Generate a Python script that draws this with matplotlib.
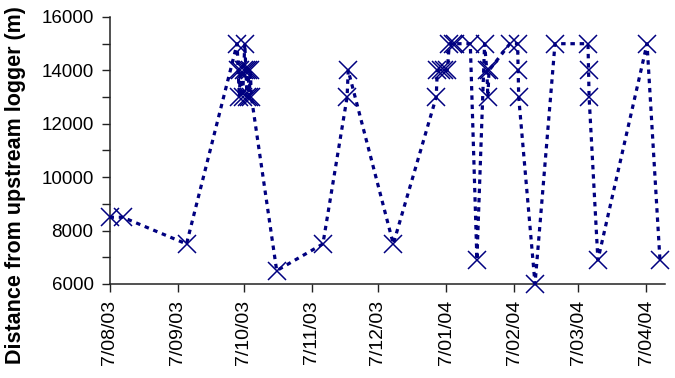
import matplotlib
matplotlib.use("Agg")
import matplotlib.pyplot as plt
import matplotlib.dates as mdates
from matplotlib.ticker import MultipleLocator, FixedLocator
import pandas as pd

# ---- data ----
times = [
    "2003-08-07 00:00", "2003-08-13 00:00", "2003-09-11 00:00",
    "2003-10-04 00:00", "2003-10-04 12:00", "2003-10-05 00:00", "2003-10-05 12:00",
    "2003-10-06 12:00", "2003-10-07 00:00", "2003-10-07 12:00", "2003-10-08 00:00",
    "2003-10-08 12:00", "2003-10-09 00:00", "2003-10-09 12:00", "2003-10-10 00:00",
    "2003-10-10 12:00",
    "2003-10-22 00:00",
    "2003-11-12 00:00", "2003-11-23 00:00", "2003-11-23 12:00",
    "2003-12-14 00:00",
    "2004-01-02 12:00", "2004-01-03 00:00", "2004-01-04 12:00", "2004-01-06 00:00",
    "2004-01-07 12:00", "2004-01-08 12:00", "2004-01-10 00:00", "2004-01-11 00:00",
    "2004-01-18 00:00",
    "2004-01-21 00:00",
    "2004-01-24 12:00", "2004-01-25 12:00", "2004-01-26 00:00", "2004-01-26 12:00",
    "2004-02-05 00:00", "2004-02-08 12:00", "2004-02-08 18:00", "2004-02-09 00:00",
    "2004-02-16 10:00",
    "2004-02-25 12:00",
    "2004-03-11 12:00", "2004-03-11 18:00", "2004-03-12 00:00",
    "2004-03-16 00:00",
    "2004-04-07 08:00",
    "2004-04-13 05:00",
]
distance_m = [
    8500, 8500, 7500,
    15000, 14000, 13000, 14000,
    13000, 14000, 15000, 14000,
    13000, 14000, 13000, 14000,
    13000,
    6500,
    7500, 13000, 14000,
    7500,
    13000, 14000, 14000, 14000,
    14000, 15000, 15000, 15000,
    15000,
    6900,
    15000, 14000, 13000, 14000,
    15000, 15000, 14000, 13000,
    6000,
    15000,
    15000, 14000, 13000,
    6900,
    15000,
    6900,
]
tick_dates = ["2003-08-07", "2003-09-07", "2003-10-07", "2003-11-07", "2003-12-07",
              "2004-01-07", "2004-02-07", "2004-03-07", "2004-04-07"]
tick_labels = ["7/08/03", "7/09/03", "7/10/03", "7/11/03", "7/12/03",
               "7/01/04", "7/02/04", "7/03/04", "7/04/04"]
y_label = "Distance from upstream logger (m)"

plt.rcParams['font.family'] = ['Liberation Sans', 'DejaVu Sans']

x = pd.to_datetime(times)
fig = plt.figure(figsize=(6.75, 3.78), dpi=100)
ax = fig.add_axes([109.5 / 675, 1 - 284 / 378, (665 - 109.5) / 675, (284 - 17) / 378])

navy = '#000080'
ax.plot(x, distance_m, color=navy, lw=2.3, linestyle=(0, (1.4, 1.5)),
        marker='x', markersize=13, markeredgewidth=1.1, clip_on=False, zorder=3)

ax.set_ylim(6000, 16000)
ax.set_xlim(pd.Timestamp("2003-08-07"), pd.Timestamp("2004-04-15 12:00"))
ax.yaxis.set_major_locator(MultipleLocator(2000))
ax.yaxis.set_minor_locator(MultipleLocator(1000))
tick_nums = mdates.date2num(pd.to_datetime(tick_dates))
ax.xaxis.set_major_locator(FixedLocator(tick_nums))
ax.set_xticklabels(tick_labels, rotation=90)
ax.xaxis.set_minor_locator(FixedLocator([]))

for s in ['top', 'right']:
    ax.spines[s].set_visible(False)
for s in ['left', 'bottom']:
    ax.spines[s].set_color('#222222')
    ax.spines[s].set_linewidth(1.1)

ax.tick_params(axis='y', which='both', direction='out', length=5.5, width=1.0,
               color='#222222', labelsize=13.5, pad=6)
ax.tick_params(axis='x', which='both', direction='out', length=5.5, width=1.0,
               color='#222222', labelsize=14, pad=6)

fig.text(16 / 675, 1 - 185 / 378, y_label, rotation=90, ha='center', va='center',
         fontsize=15.5, fontweight='bold')

fig.savefig("out.png", dpi=100)
